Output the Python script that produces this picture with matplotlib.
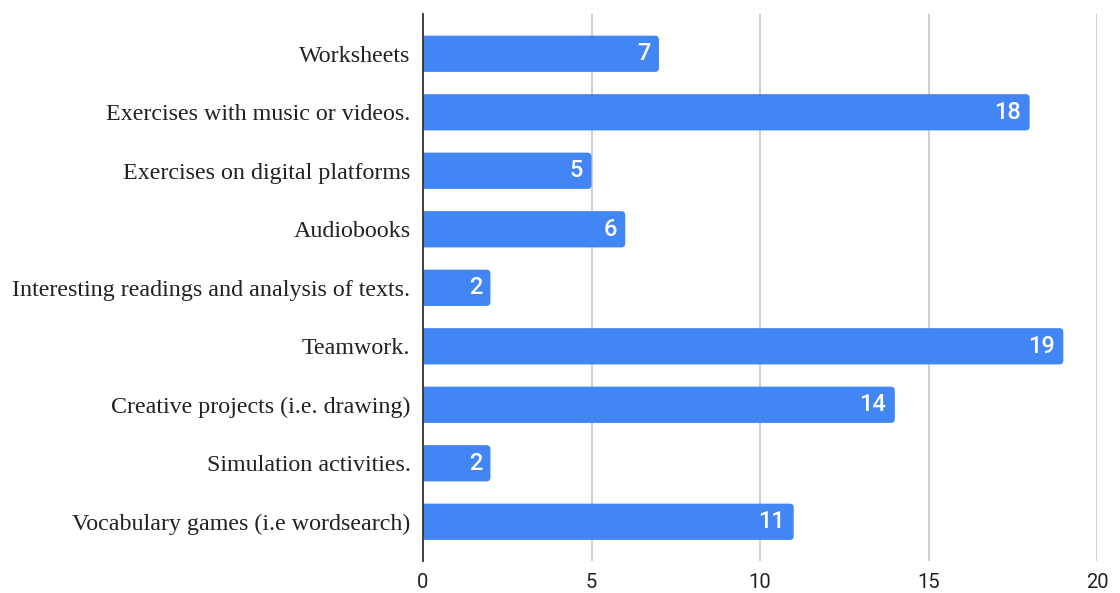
import matplotlib
matplotlib.use("Agg")
import matplotlib.pyplot as plt
from matplotlib.patches import FancyBboxPatch

categories = [
    "Worksheets",
    "Exercises with music or videos.",
    "Exercises on digital platforms",
    "Audiobooks",
    "Interesting readings and analysis of texts.",
    "Teamwork.",
    "Creative projects (i.e. drawing)",
    "Simulation activities.",
    "Vocabulary games (i.e wordsearch)",
]
counts = [7, 18, 5, 6, 2, 19, 14, 2, 11]
x_ticks = [0, 5, 10, 15, 20]

BAR_COLOR = "#4285F4"

fig = plt.figure(figsize=(11.2, 5.93), dpi=100)
ax = fig.add_axes([0.3777, 0.054, 0.6018, 0.9224])

ax.set_xlim(0, 20)
ax.set_ylim(8.67, -0.68)

ypos = list(range(len(categories)))
bars = ax.barh(ypos, counts, height=0.62, color=BAR_COLOR, zorder=3)

# Swap the plain rectangles for ones with softly rounded ends
fig.canvas.draw()
bbox = ax.get_window_extent()
px_per_x = bbox.width / 20.0
px_per_y = bbox.height / (8.67 + 0.68)
radius_px = 4.0
for bar in bars:
    bar.set_visible(False)
    x0 = -0.4
    w = bar.get_width() - x0
    patch = FancyBboxPatch(
        (x0, bar.get_y()), w, bar.get_height(),
        boxstyle=f"round,pad=0,rounding_size={radius_px / px_per_x}",
        mutation_aspect=px_per_x / px_per_y,
        facecolor=BAR_COLOR, edgecolor="none", zorder=3,
    )
    ax.add_patch(patch)

for y, v in zip(ypos, counts):
    ax.text(v - 0.25, y, str(v), ha="right", va="center", color="white",
            fontsize=17, family="Roboto", fontweight="medium", zorder=4)

ax.set_xticks(x_ticks)
ax.set_xticklabels([str(t) for t in x_ticks], family="Roboto", fontsize=14.5, color="#222222")
ax.set_yticks(ypos)
ax.set_yticklabels(categories, family="Liberation Serif", fontsize=17.3, color="#222222")
ax.tick_params(axis="both", length=0)
ax.tick_params(axis="x", pad=9)
ax.tick_params(axis="y", pad=9)

ax.grid(axis="x", color="#cccccc", linewidth=1.3, zorder=0)
for s in ["top", "right", "bottom"]:
    ax.spines[s].set_visible(False)
ax.spines["left"].set_color("#333333")
ax.spines["left"].set_linewidth(1.3)
ax.spines["left"].set_zorder(5)

fig.savefig("out.png", dpi=100)
